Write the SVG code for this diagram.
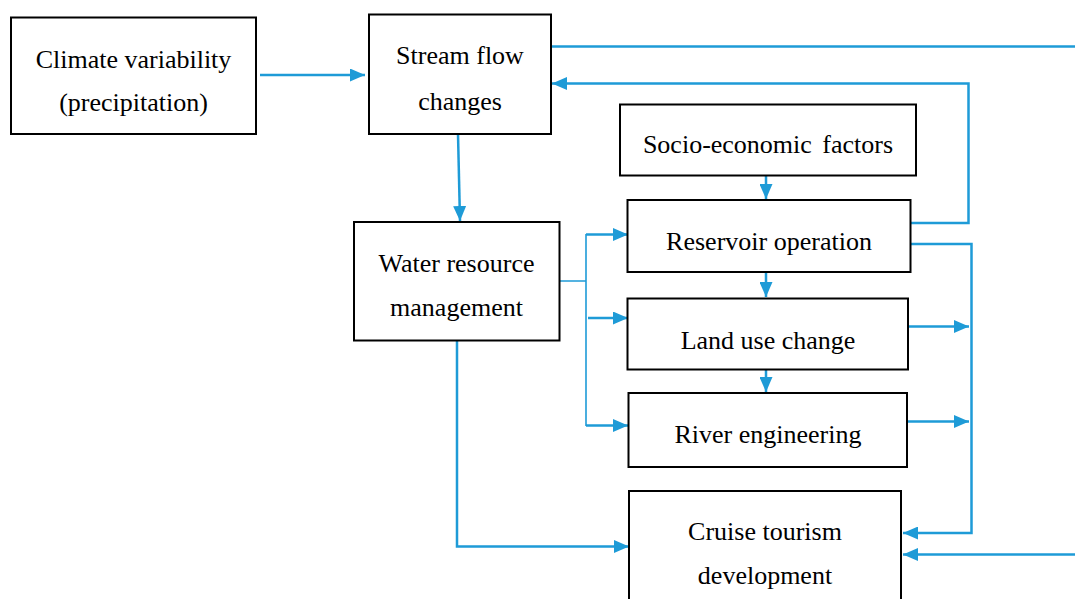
<svg xmlns="http://www.w3.org/2000/svg" width="1075" height="599" viewBox="0 0 1075 599">
<style>
.box{fill:#fff;stroke:#000;stroke-width:2}
.t{font-family:'Liberation Serif','Times New Roman','DejaVu Serif',serif;font-size:26px;fill:#000;text-anchor:middle}
.c{fill:none;stroke:#1E9BD7;stroke-width:2.5}
.thin{fill:none;stroke:#1E9BD7;stroke-width:1.6}
</style>
<defs>
<marker id="ah" markerUnits="userSpaceOnUse" markerWidth="15" markerHeight="13" refX="15" refY="6.5" orient="auto">
<path d="M0,0 L15,6.5 L0,13 z" fill="#1E9BD7"/>
</marker>
</defs>
<rect width="1075" height="599" fill="#fff"/>
<g id="connectors">
<path class="c" d="M260,75 H365" marker-end="url(#ah)"/>
<path class="c" d="M551,46.5 H1075"/>
<path class="c" d="M911,223 H968.5 V83.5 H552" marker-end="url(#ah)"/>
<path class="c" d="M458,134 L460,221" marker-end="url(#ah)"/>
<path class="c" d="M766,176 V199" marker-end="url(#ah)"/>
<path class="thin" d="M560,281 H586 M586,234 V426"/>
<path class="c" d="M586,234.5 H628" marker-end="url(#ah)"/>
<path class="c" d="M588,318 H628" marker-end="url(#ah)"/>
<path class="c" d="M586,425.5 H628" marker-end="url(#ah)"/>
<path class="c" d="M766,272 V297" marker-end="url(#ah)"/>
<path class="c" d="M766,370 V392" marker-end="url(#ah)"/>
<path class="c" d="M911,244 H971.5 V533 H903" marker-end="url(#ah)"/>
<path class="c" d="M908,326.5 H969" marker-end="url(#ah)"/>
<path class="c" d="M907,421.5 H969" marker-end="url(#ah)"/>
<path class="c" d="M1075,554.5 H903" marker-end="url(#ah)"/>
<path class="c" d="M457,341 V546.5 H629" marker-end="url(#ah)"/>
</g>
<g id="climate">
<rect class="box" x="11" y="17.5" width="245" height="116.5"/>
<text class="t" x="133.5" y="68">Climate variability</text>
<text class="t" x="133.5" y="111">(precipitation)</text>
</g>
<g id="stream">
<rect class="box" x="369" y="14.5" width="182" height="119.5"/>
<text class="t" x="460" y="64">Stream flow</text>
<text class="t" x="460" y="110">changes</text>
</g>
<g id="socio">
<rect class="box" x="620" y="104.5" width="296" height="71"/>
<text class="t" x="768" y="153" word-spacing="4">Socio-economic factors</text>
</g>
<g id="reservoir">
<rect class="box" x="627.5" y="200" width="283" height="72"/>
<text class="t" x="769" y="250">Reservoir operation</text>
</g>
<g id="water">
<rect class="box" x="354" y="222" width="205.5" height="118.5"/>
<text class="t" x="456.5" y="272">Water resource</text>
<text class="t" x="456.5" y="316">management</text>
</g>
<g id="landuse">
<rect class="box" x="627.5" y="298.5" width="280.5" height="71"/>
<text class="t" x="768" y="349">Land use change</text>
</g>
<g id="river">
<rect class="box" x="628.5" y="393" width="278.5" height="74"/>
<text class="t" x="768" y="443">River engineering</text>
</g>
<g id="cruise">
<rect class="box" x="629" y="491" width="272" height="120"/>
<text class="t" x="765" y="540">Cruise tourism</text>
<text class="t" x="765" y="584">development</text>
</g>
</svg>
